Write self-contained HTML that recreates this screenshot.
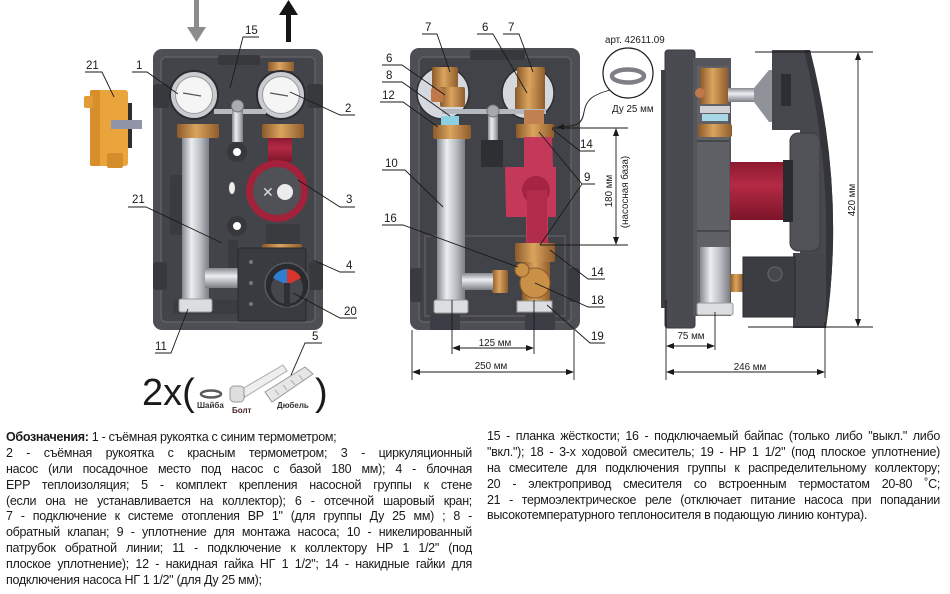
<!DOCTYPE html>
<html>
<head>
<meta charset="utf-8">
<style>
html,body{margin:0;padding:0;background:#fff;}
body{width:950px;height:594px;position:relative;overflow:hidden;font-family:"Liberation Sans","DejaVu Sans",sans-serif;}
svg{position:absolute;left:0;top:0;}
.col{position:absolute;font-size:12.5px;line-height:15.9px;color:#1a1a1a;letter-spacing:-0.3px;}
.col div{text-align:justify;text-align-last:justify;height:15.9px;overflow:hidden;}
.col div.l{text-align:left;text-align-last:left;}
svg text{font-family:"Liberation Sans","DejaVu Sans",sans-serif;fill:#1a1a1a;}
</style>
</head>
<body>
<svg width="950" height="420" viewBox="0 0 950 420">
<defs>
 <linearGradient id="sv" x1="0" x2="1" y1="0" y2="0">
  <stop offset="0" stop-color="#85888e"/><stop offset="0.35" stop-color="#eceef1"/>
  <stop offset="0.7" stop-color="#b7bac0"/><stop offset="1" stop-color="#7a7d83"/>
 </linearGradient>
 <linearGradient id="svh" x1="0" x2="0" y1="0" y2="1">
  <stop offset="0" stop-color="#85888e"/><stop offset="0.4" stop-color="#eceef1"/>
  <stop offset="1" stop-color="#7a7d83"/>
 </linearGradient>
 <linearGradient id="br" x1="0" x2="1" y1="0" y2="0">
  <stop offset="0" stop-color="#8a5a2a"/><stop offset="0.45" stop-color="#dba45e"/>
  <stop offset="1" stop-color="#8f5c2c"/>
 </linearGradient>
 <linearGradient id="rd" x1="0" x2="0" y1="0" y2="1">
  <stop offset="0" stop-color="#8d1830"/><stop offset="0.4" stop-color="#b42a45"/>
  <stop offset="1" stop-color="#7d1428"/>
 </linearGradient>
</defs>

<!-- ===== LEFT UNIT ===== -->
<!-- flow arrows -->
<rect x="194" y="0" width="5" height="30" fill="#8c8c8c"/>
<polygon points="187,27 206,27 196.5,42" fill="#8c8c8c"/>
<rect x="286" y="12" width="5" height="30" fill="#151515"/>
<polygon points="279,15 298,15 288.5,0" fill="#151515"/>

<rect x="153" y="49" width="170" height="281" rx="9" fill="#4e4f54"/>
<rect x="161" y="57" width="154" height="265" rx="5" fill="#434449" stroke="#5f6065" stroke-width="1.5"/>
<rect x="218" y="55" width="42" height="10" rx="2" fill="#38393d"/>
<!-- pipe stubs -->
<rect x="153" y="84" width="16" height="24" rx="3" fill="#38393d"/>
<rect x="307" y="84" width="16" height="24" rx="3" fill="#38393d"/>
<rect x="153" y="262" width="14" height="28" rx="3" fill="#38393d"/>
<rect x="309" y="262" width="14" height="28" rx="3" fill="#38393d"/>
<rect x="170" y="175" width="14" height="60" rx="3" fill="#3a3b40"/>
<rect x="173" y="300" width="130" height="14" rx="3" fill="#3b3c41"/>

<!-- thermometers -->
<rect x="268" y="62" width="26" height="9" fill="url(#br)"/>
<circle cx="194" cy="95" r="24" fill="#c9ccd1" stroke="#2b2c30" stroke-width="2"/>
<circle cx="194" cy="95" r="18.5" fill="#f5f5f5" stroke="#9a9a9a"/>
<line x1="183" y1="93" x2="201" y2="96" stroke="#555" stroke-width="1.3"/>
<circle cx="281" cy="95" r="24" fill="#c9ccd1" stroke="#2b2c30" stroke-width="2"/>
<circle cx="281" cy="95" r="18.5" fill="#f5f5f5" stroke="#9a9a9a"/>
<line x1="270" y1="93" x2="288" y2="96" stroke="#555" stroke-width="1.3"/>
<!-- bar 15 -->
<rect x="214" y="109" width="52" height="5" fill="#b8bbc0"/>
<rect x="232" y="106" width="11" height="36" fill="url(#sv)"/>
<circle cx="237.5" cy="106" r="6" fill="#a9acb2" stroke="#777"/>
<!-- nuts -->
<rect x="177" y="124" width="42" height="14" rx="2" fill="url(#br)"/>
<rect x="262" y="124" width="42" height="14" rx="2" fill="url(#br)"/>
<!-- left pipe -->
<rect x="182" y="138" width="27" height="164" fill="url(#sv)"/>
<rect x="179" y="299" width="33" height="13" rx="2" fill="#dcdde0" stroke="#999"/>
<!-- middle holes -->
<circle cx="237" cy="152" r="10" fill="#37383c"/><circle cx="237" cy="152" r="4" fill="#fff"/>
<circle cx="237" cy="226" r="10" fill="#37383c"/><circle cx="237" cy="226" r="4" fill="#fff"/>
<ellipse cx="232" cy="188" rx="3" ry="6" fill="#eee"/>
<!-- pump -->
<rect x="268" y="138" width="24" height="24" fill="url(#rd)"/>
<circle cx="277" cy="191" r="31" fill="#a3213a"/>
<circle cx="277" cy="191" r="24" fill="#505156"/>
<circle cx="285" cy="192" r="8" fill="#ececec"/>
<text x="262" y="197" font-size="14" style="fill:#ddd">✕</text>
<rect x="266" y="224" width="34" height="20" fill="#3a3b3f"/>
<rect x="262" y="244" width="40" height="11" rx="2" fill="url(#br)"/>
<!-- elbow -->
<rect x="205" y="268" width="42" height="20" fill="url(#svh)"/>
<rect x="228" y="240" width="10" height="28" fill="#3a3b40"/>
<!-- actuator 20 -->
<rect x="238" y="248" width="68" height="73" rx="2" fill="#3a3b40" stroke="#26272a"/>
<circle cx="287" cy="285" r="22" fill="#2a2b2f" stroke="#56575c" stroke-width="1.5"/>
<circle cx="287" cy="288" r="16" fill="#46474c"/>
<path d="M287,285 L273,278 A16,16 0 0 1 287,269 Z" fill="#2f7fd0"/>
<path d="M287,285 L287,269 A16,16 0 0 1 301,278 Z" fill="#d8342e"/>
<rect x="284" y="283" width="6" height="24" fill="#2f3034"/>
<circle cx="251" cy="262" r="2" fill="#777"/><circle cx="251" cy="283" r="2" fill="#777"/>
<circle cx="251" cy="304" r="2" fill="#777"/>
<!-- relay 21 -->
<rect x="126" y="103" width="6" height="45" fill="#2e2e30"/>
<rect x="90" y="90" width="38" height="76" rx="3" fill="#eaa43c"/>
<rect x="90" y="90" width="10" height="76" rx="2" fill="#d88e2a"/>
<rect x="84" y="96" width="9" height="12" rx="2" fill="#e39c35"/>
<rect x="107" y="153" width="16" height="15" rx="2" fill="#d58d2b"/>
<rect x="111" y="120" width="31" height="9" fill="#8f94a8"/>

<!-- left labels -->
<g stroke="#1a1a1a" stroke-width="0.9" fill="none">
 <polyline points="259,37 243,37 230,88"/>
 <polyline points="132,72 147,72 178,94"/>
 <polyline points="85,72 102,72 114,97"/>
 <polyline points="355,115 340,115 290,92"/>
 <polyline points="355,207 340,207 298,180"/>
 <polyline points="128,207 146,207 222,243"/>
 <polyline points="355,272 340,272 313,260"/>
 <polyline points="357,318 340,318 293,293"/>
 <polyline points="155,353 171,353 188,309"/>
 <polyline points="322,343 305,343 288,382"/>
</g>
<g font-size="11.5">
 <text x="245" y="34">15</text>
 <text x="136" y="69">1</text>
 <text x="86" y="69">21</text>
 <text x="345" y="112">2</text>
 <text x="346" y="203">3</text>
 <text x="132" y="203">21</text>
 <text x="346" y="269">4</text>
 <text x="344" y="315">20</text>
 <text x="155" y="350">11</text>
 <text x="312" y="340">5</text>
</g>
<!-- 2x( ... ) -->
<text x="142" y="405" font-size="38">2x(</text>
<text x="315" y="405" font-size="38">)</text>
<ellipse cx="211" cy="394" rx="10" ry="3.5" fill="none" stroke="#5a5a5a" stroke-width="2.5"/>
<polygon points="242,389 283,365 287,371 245,397" fill="#eeeeee" stroke="#aaa"/>
<rect x="230" y="386" width="14" height="16" rx="4" fill="#dedede" stroke="#999"/>
<polygon points="265,392 305,367 313,374 272,402" fill="#e6e6e6" stroke="#999"/>
<line x1="275" y1="390" x2="279" y2="395" stroke="#aaa"/><line x1="283" y1="385" x2="287" y2="390" stroke="#aaa"/>
<line x1="291" y1="380" x2="295" y2="385" stroke="#aaa"/><line x1="299" y1="375" x2="303" y2="380" stroke="#aaa"/>
<g font-size="8" font-weight="bold">
 <text x="197" y="408" style="fill:#333">Шайба</text>
 <text x="232" y="413" style="fill:#4a2525">Болт</text>
 <text x="277" y="408" style="fill:#333">Дюбель</text>
</g>

<!-- ===== MIDDLE UNIT ===== -->
<rect x="410" y="48" width="170" height="282" rx="9" fill="#4e4f54"/>
<rect x="419" y="57" width="152" height="265" rx="5" fill="#424348" stroke="#5f6065" stroke-width="1.5"/>
<rect x="470" y="50" width="55" height="10" rx="2" fill="#38393d"/>
<rect x="425" y="236" width="140" height="80" fill="none" stroke="#5a5b60" stroke-width="1.5"/>
<rect x="410" y="268" width="12" height="34" rx="3" fill="#3a3b42"/>
<rect x="568" y="268" width="12" height="34" rx="3" fill="#3a3b42"/>
<rect x="430" y="314" width="30" height="16" fill="#3d3e45"/>
<rect x="525" y="314" width="30" height="16" fill="#3d3e45"/>
<circle cx="443" cy="93" r="26" fill="#d5d8de" stroke="#2d2e32" stroke-width="1.5"/>
<circle cx="528" cy="93" r="26" fill="#d5d8de" stroke="#2d2e32" stroke-width="1.5"/>
<!-- valves -->
<rect x="432" y="67" width="26" height="22" rx="2" fill="url(#br)"/>
<rect x="440" y="87" width="25" height="20" rx="2" fill="url(#br)"/>
<rect x="431" y="88" width="12" height="14" rx="2" fill="#c0784a"/>
<rect x="517" y="67" width="28" height="22" rx="2" fill="url(#br)"/>
<rect x="515" y="87" width="30" height="23" rx="2" fill="url(#br)"/>
<!-- bar -->
<rect x="442" y="109" width="104" height="5" fill="#b5b8be"/>
<rect x="488" y="112" width="10" height="52" fill="url(#sv)"/>
<circle cx="493" cy="111" r="6" fill="#a5a8ae" stroke="#777"/>
<rect x="481" y="140" width="22" height="27" fill="#2e2f33"/>
<rect x="441" y="116" width="18" height="9" fill="#8ccfe0"/>
<rect x="524" y="110" width="20" height="15" fill="#c08050"/>
<rect x="433" y="125" width="38" height="14" rx="2" fill="url(#br)"/>
<rect x="516" y="124" width="38" height="14" rx="2" fill="url(#br)"/>
<!-- left pipe -->
<rect x="437" y="139" width="28" height="164" fill="url(#sv)"/>
<rect x="434" y="300" width="34" height="13" rx="2" fill="#dcdde0" stroke="#999"/>
<!-- pump sectional -->
<path d="M524,137 L552,137 L553,167 L556,167 L556,217 L548,217 L548,244 L526,244 L526,217 L506,217 L505,167 L524,167 Z" fill="#c4385a"/>
<circle cx="536" cy="190" r="14" fill="#a52444"/>
<rect x="527" y="190" width="20" height="54" fill="#b22c4c"/>
<!-- mixer -->
<rect x="515" y="243" width="40" height="19" rx="2" fill="url(#br)"/>
<rect x="522" y="262" width="28" height="42" fill="url(#br)"/>
<circle cx="535" cy="283" r="15" fill="#c99048" stroke="#8a5a2a"/>
<rect x="492" y="270" width="16" height="23" rx="2" fill="url(#br)"/>
<rect x="462" y="273" width="31" height="17" fill="url(#svh)"/>
<circle cx="522" cy="270" r="7" fill="#c99048" stroke="#8a5a2a"/>
<rect x="517" y="301" width="35" height="11" fill="#dcdde0" stroke="#999"/>

<!-- middle labels/leaders -->
<g stroke="#1a1a1a" stroke-width="0.9" fill="none">
 <polyline points="422,34 437,34 450,72"/>
 <polyline points="382,65 402,65 445,95"/>
 <polyline points="382,82 402,82 450,116"/>
 <polyline points="380,102 403,102 438,127"/>
 <polyline points="477,34 493,34 527,93"/>
 <polyline points="503,34 519,34 533,72"/>
 <polyline points="382,170 405,170 443,207"/>
 <polyline points="382,225 403,225 518,267"/>
 <polyline points="595,151 580,151 552,129"/>
 <polyline points="539,132 582,184 595,184"/>
 <polyline points="540,245 582,184"/>
 <polyline points="605,279 588,279 550,250"/>
 <polyline points="605,307 588,307 535,283"/>
 <polyline points="605,343 590,343 547,305"/>
 <path d="M610,90 C592,95 586,100 584,112 C582,124 578,126 560,127"/>
 <!-- dims -->
 <line x1="552" y1="128" x2="628" y2="128"/>
 <line x1="540" y1="245" x2="628" y2="245"/>
 <line x1="616" y1="133" x2="616" y2="240"/>
 <line x1="452" y1="300" x2="452" y2="354"/>
 <line x1="534" y1="300" x2="534" y2="354"/>
 <line x1="457" y1="348" x2="529" y2="348"/>
 <line x1="412" y1="330" x2="412" y2="380"/>
 <line x1="574" y1="330" x2="574" y2="380"/>
 <line x1="417" y1="372" x2="569" y2="372"/>
</g>
<g fill="#1a1a1a">
 <polygon points="557,127 564,124 564,130"/>
 <polygon points="616,128 613,136 619,136"/>
 <polygon points="616,245 613,237 619,237"/>
 <polygon points="452,348 460,345 460,351"/>
 <polygon points="534,348 526,345 526,351"/>
 <polygon points="412,372 420,369 420,375"/>
 <polygon points="574,372 566,369 566,375"/>
</g>
<circle cx="628" cy="73" r="25" fill="#fff" stroke="#1a1a1a" stroke-width="1.2"/>
<ellipse cx="628" cy="76" rx="16" ry="6.5" fill="none" stroke="#7d7f84" stroke-width="4.5"/>
<g font-size="11.5">
 <text x="425" y="31">7</text>
 <text x="386" y="62">6</text>
 <text x="386" y="79">8</text>
 <text x="382" y="99">12</text>
 <text x="482" y="31">6</text>
 <text x="508" y="31">7</text>
 <text x="385" y="167">10</text>
 <text x="384" y="222">16</text>
 <text x="580" y="148">14</text>
 <text x="584" y="181">9</text>
 <text x="591" y="276">14</text>
 <text x="591" y="304">18</text>
 <text x="591" y="340">19</text>
</g>
<g font-size="9.8">
 <text x="605" y="43">арт. 42611.09</text>
 <text x="612" y="112">Ду 25 мм</text>
 <text x="495" y="346" text-anchor="middle">125 мм</text>
 <text x="491" y="369" text-anchor="middle">250 мм</text>
 <text x="0" y="0" transform="translate(612,191) rotate(-90)" text-anchor="middle">180 мм</text>
 <text x="0" y="0" transform="translate(628,192) rotate(-90)" text-anchor="middle">(насосная база)</text>
</g>

<!-- ===== SIDE VIEW ===== -->
<rect x="661" y="70" width="7" height="238" fill="#3f4044"/>
<rect x="665" y="50" width="30" height="278" rx="3" fill="#4a4b50" stroke="#3a3b3f"/>
<rect x="693" y="58" width="38" height="258" fill="#55565b"/>
<rect x="697" y="66" width="32" height="244" fill="#606166"/>
<rect x="697" y="140" width="32" height="2" fill="#46474b"/>
<rect x="697" y="230" width="32" height="2" fill="#46474b"/>
<rect x="700" y="68" width="28" height="36" rx="2" fill="url(#br)"/>
<circle cx="700" cy="93" r="5" fill="#c0784a"/>
<rect x="700" y="106" width="30" height="7" fill="#cfd1d5"/>
<rect x="702" y="114" width="26" height="7" fill="#a8d8e8"/>
<rect x="698" y="124" width="34" height="13" rx="2" fill="url(#br)"/>
<rect x="728" y="88" width="28" height="14" fill="url(#svh)"/>
<polygon points="754,88 769,70 778,70 778,122 769,122 754,102" fill="#8f9298"/>
<rect x="772" y="50" width="38" height="80" fill="#46474c"/>
<rect x="781" y="74" width="10" height="32" fill="#2d2e32"/>
<path d="M800,50 L810,50 Q846,190 826,328 L800,328 Z" fill="#47484d"/>
<path d="M810,50 Q846,190 826,328 L820,328 Q838,190 804,50 Z" fill="#34353a"/>
<rect x="790" y="133" width="30" height="118" rx="8" fill="#515257" stroke="#3a3b3f"/>
<rect x="730" y="162" width="53" height="58" fill="url(#rd)"/>
<rect x="783" y="160" width="10" height="62" fill="#2a2b2e"/>
<rect x="700" y="247" width="30" height="60" fill="url(#sv)"/>
<rect x="697" y="303" width="36" height="12" rx="2" fill="#dcdde0" stroke="#999"/>
<rect x="730" y="274" width="13" height="18" fill="url(#br)"/>
<rect x="793" y="253" width="33" height="75" fill="#45464b"/>
<rect x="743" y="257" width="52" height="60" fill="#3c3d42" stroke="#2a2b2e"/>
<circle cx="775" cy="274" r="7" fill="#46474c" stroke="#5c5d62" stroke-width="1.5"/>
<g stroke="#1a1a1a" stroke-width="0.9" fill="none">
 <line x1="755" y1="52" x2="873" y2="52"/>
 <line x1="748" y1="327" x2="873" y2="327"/>
 <line x1="858" y1="57" x2="858" y2="322"/>
 <line x1="666" y1="300" x2="666" y2="380"/>
 <line x1="715" y1="312" x2="715" y2="350"/>
 <line x1="825" y1="322" x2="825" y2="378"/>
 <line x1="671" y1="346" x2="710" y2="346"/>
 <line x1="671" y1="372" x2="820" y2="372"/>
</g>
<g fill="#1a1a1a">
 <polygon points="858,52 855,60 861,60"/>
 <polygon points="858,327 855,319 861,319"/>
 <polygon points="666,346 674,343 674,349"/>
 <polygon points="715,346 707,343 707,349"/>
 <polygon points="666,372 674,369 674,375"/>
 <polygon points="825,372 817,369 817,375"/>
</g>
<g font-size="9.8">
 <text x="0" y="0" transform="translate(855,200) rotate(-90)" text-anchor="middle">420 мм</text>
 <text x="691" y="339" text-anchor="middle">75 мм</text>
 <text x="750" y="370" text-anchor="middle">246 мм</text>
</g>
</svg>

<div class="col" style="left:6px;top:430px;width:466px;">
 <div class="l"><b>Обозначения:</b> 1 - съёмная рукоятка с синим термометром;</div>
 <div>2 - съёмная рукоятка с красным термометром; 3 - циркуляционный</div>
 <div>насос (или посадочное место под насос с базой 180 мм); 4 - блочная</div>
 <div>EPP теплоизоляция; 5 - комплект крепления насосной группы к стене</div>
 <div>(если она не устанавливается на коллектор); 6 - отсечной шаровый кран;</div>
 <div>7 - подключение к системе отопления ВР 1" (для группы Ду 25 мм) ; 8 -</div>
 <div>обратный клапан; 9 - уплотнение для монтажа насоса; 10 - никелированный</div>
 <div>патрубок обратной линии; 11 - подключение к коллектору НР 1 1/2" (под</div>
 <div>плоское уплотнение); 12 - накидная гайка НГ 1 1/2"; 14 - накидные гайки для</div>
 <div class="l">подключения насоса НГ 1 1/2" (для Ду 25 мм);</div>
</div>

<div class="col" style="left:487px;top:429px;width:453px;">
 <div>15 - планка жёсткости; 16 - подключаемый байпас (только либо "выкл." либо</div>
 <div>"вкл."); 18 - 3-х ходовой смеситель; 19 - НР 1 1/2" (под плоское уплотнение)</div>
 <div>на смесителе для подключения группы к распределительному коллектору;</div>
 <div>20 - электропривод смесителя со встроенным термостатом 20-80 ˚С;</div>
 <div>21 - термоэлектрическое реле (отключает питание насоса при попадании</div>
 <div class="l">высокотемпературного теплоносителя в подающую линию контура).</div>
</div>
</body>
</html>
